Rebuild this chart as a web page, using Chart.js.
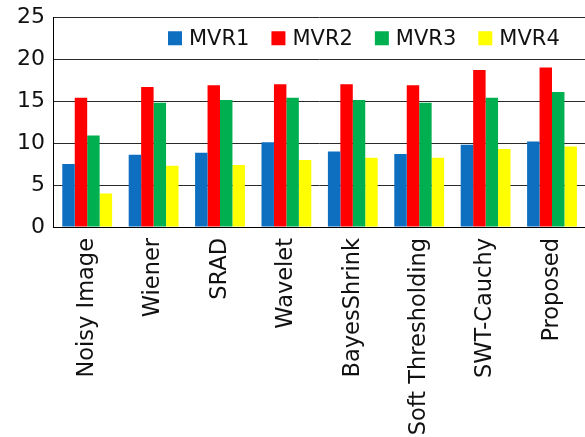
<!DOCTYPE html>
<html>
<head>
<meta charset="utf-8">
<script src="https://cdn.jsdelivr.net/npm/chart.js@4"></script>
<style>
  html, body { margin: 0; padding: 0; background: #fff; overflow: hidden; }
  #wrap { width: 585px; height: 437px; overflow: hidden; }
</style>
</head>
<body>
<div id="wrap"><canvas id="myChart" width="590" height="437"></canvas></div>
<script>
var categories = ['Noisy Image', 'Wiener', 'SRAD', 'Wavelet', 'BayesShrink', 'Soft Thresholding', 'SWT-Cauchy', 'Proposed'];
var mvr1 = [7.5, 8.6, 8.85, 10.1, 9.0, 8.7, 9.8, 10.2];
var mvr2 = [15.4, 16.7, 16.9, 17.0, 17.0, 16.9, 18.7, 19.0];
var mvr3 = [10.9, 14.8, 15.15, 15.4, 15.15, 14.8, 15.4, 16.1];
var mvr4 = [4.0, 7.3, 7.4, 8.0, 8.25, 8.25, 9.3, 9.6];
var seriesNames = ['MVR1', 'MVR2', 'MVR3', 'MVR4'];
var yTicks = [0, 5, 10, 15, 20, 25];

var font = 'DejaVu Sans';

// legend drawn inside the plot, top right, like the original
var innerLegend = {
    id: 'innerLegend',
    afterDraw: function (chart) {
        var ctx = chart.ctx;
        var area = chart.chartArea;
        var x = area.left + 114;
        var y = area.top + 21;
        ctx.save();
        ctx.font = '21px "' + font + '"';
        ctx.textBaseline = 'middle';
        chart.data.datasets.forEach(function (ds) {
            ctx.fillStyle = ds.backgroundColor;
            ctx.fillRect(x, y - 7, 14, 14);
            x += 21;
            ctx.fillStyle = '#111';
            ctx.fillText(ds.label, x, y + 1);
            x += ctx.measureText(ds.label).width + 22;
        });
        ctx.restore();
    }
};

var ctx = document.getElementById('myChart').getContext('2d');
var myChart = new Chart(ctx, {
    type: 'bar',
    data: {
        labels: categories,
        datasets: [{
            label: seriesNames[0],
            data: mvr1,
            backgroundColor: '#0E6EC0'
        }, {
            label: seriesNames[1],
            data: mvr2,
            backgroundColor: '#FF0000'
        }, {
            label: seriesNames[2],
            data: mvr3,
            backgroundColor: '#00B050'
        }, {
            label: seriesNames[3],
            data: mvr4,
            backgroundColor: '#FFFF00'
        }]
    },
    options: {
        responsive: false,
        animation: false,
        layout: {
            padding: { top: 17, left: 8, right: 0, bottom: 0 }
        },
        datasets: {
            bar: {
                categoryPercentage: 0.75,
                barPercentage: 1.0
            }
        },
        plugins: {
            legend: { display: false },
            tooltip: { enabled: false }
        },
        scales: {
            x: {
                grid: { display: false, drawTicks: false },
                border: { display: true, color: '#000', width: 1 },
                ticks: {
                    color: '#111',
                    font: { family: font, size: 22.5 },
                    minRotation: 90,
                    maxRotation: 90,
                    padding: 11,
                    autoSkip: false
                }
            },
            y: {
                min: 0,
                max: 25,
                afterBuildTicks: function (scale) {
                    scale.ticks = yTicks.map(function (v) { return { value: v }; });
                },
                grid: { color: '#2a2a2a', lineWidth: 1, drawTicks: false },
                border: { display: true, color: '#000', width: 1 },
                ticks: {
                    color: '#111',
                    font: { family: font, size: 22, lineHeight: 0.75 },
                    padding: 9
                }
            }
        }
    },
    plugins: [innerLegend]
});
</script>
</body>
</html>
